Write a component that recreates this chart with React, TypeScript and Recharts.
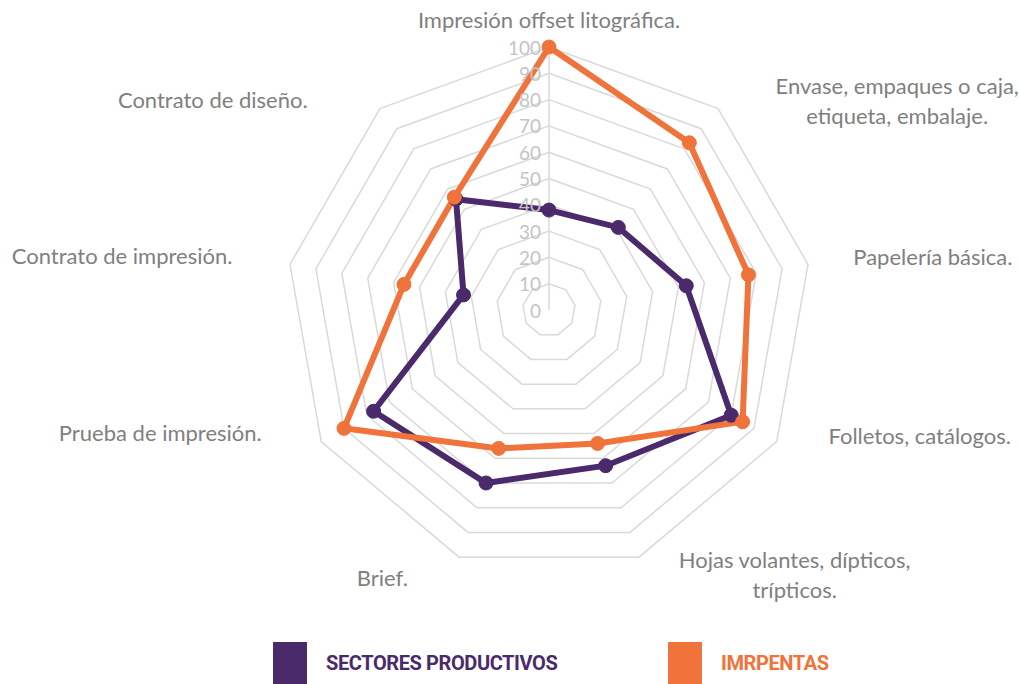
import { Legend, PolarAngleAxis, PolarGrid, PolarRadiusAxis, Radar, RadarChart } from 'recharts';

// Categories, clockwise from the top. "\n" marks a line break in the label.
const categories = [
  'Impresión offset litográfica.',
  'Envase, empaques o caja,\netiqueta, embalaje.',
  'Papelería básica.',
  'Folletos, catálogos.',
  'Hojas volantes, dípticos,\ntrípticos.',
  'Brief.',
  'Prueba de impresión.',
  'Contrato de impresión.',
  'Contrato de diseño.',
];

const sectoresProductivos = [38, 41, 53, 80, 63, 70, 77, 33, 55];
const imprentas = [100, 83, 77, 85, 54, 56, 90, 56, 56];

const seriesNames = ['SECTORES PRODUCTIVOS', 'IMRPENTAS'];

const PURPLE = '#4a2a6b';
const ORANGE = '#ef733a';
const GRID = '#d9d9d9';

const data = categories.map((name, i) => ({
  name,
  sectores: sectoresProductivos[i],
  imprentas: imprentas[i],
}));

// Excel puts category labels a bit off the spokes; nudge each one from the tick point.
const labelNudge: [number, number][] = [
  [0, -20],
  [174, -2],
  [117, -6],
  [136, -10],
  [153, 10],
  [-74, 13],
  [-154, -13],
  [-160, -7],
  [-162, -3],
];

function AngleTick({ x, y, payload, index }: any) {
  const [dx, dy] = labelNudge[index] ?? [0, 0];
  const lines = String(payload.value).split('\n');
  const lineH = 30;
  const top = y + dy - ((lines.length - 1) * lineH) / 2;
  return (
    <text
      textAnchor="middle"
      fill="#7f7f7f"
      fontSize={22}
      fontFamily="Lato, 'Open Sans', sans-serif"
    >
      {lines.map((l, i) => (
        <tspan key={i} x={x + dx} y={top + i * lineH} dominantBaseline="central">
          {l}
        </tspan>
      ))}
    </text>
  );
}

function RadiusTick({ x, y, payload }: any) {
  return (
    <text
      x={x - 8}
      y={y}
      textAnchor="end"
      dominantBaseline="central"
      fill="#c4c4c4"
      fontSize={19}
      fontFamily="Lato, 'Open Sans', sans-serif"
    >
      {payload.value}
    </text>
  );
}

function LegendBox() {
  const items = [
    { name: seriesNames[0], color: PURPLE, width: 395 },
    { name: seriesNames[1], color: ORANGE, width: 200 },
  ];
  return (
    <div style={{ display: 'flex', paddingLeft: 273 }}>
      {items.map((it) => (
        <div key={it.name} style={{ display: 'flex', alignItems: 'center', width: it.width }}>
          <span style={{ width: 34, height: 44, background: it.color, display: 'inline-block' }} />
          <span
            style={{
              marginLeft: 19,
              marginTop: -2,
              color: it.color,
              fontFamily: "Roboto, 'Open Sans', sans-serif",
              fontWeight: 700,
              fontSize: 20,
              letterSpacing: -0.4,
            }}
          >
            {it.name}
          </span>
        </div>
      ))}
    </div>
  );
}

export default function App() {
  return (
    <div style={{ position: 'absolute', left: 0, top: 0, width: 1019, height: 684, background: '#fff', overflow: 'hidden' }}>
      <RadarChart
        width={1019}
        height={684}
        data={data}
        cx={549}
        cy={310}
        outerRadius={263}
        startAngle={90}
        endAngle={-270}
        margin={{ top: 0, right: 0, bottom: 0, left: 0 }}
      >
        <PolarGrid gridType="polygon" radialLines={false} stroke={GRID} strokeWidth={1.5} />
        <PolarAngleAxis dataKey="name" tick={AngleTick} tickLine={false} axisLine={false} />
        <PolarRadiusAxis
          angle={90}
          domain={[0, 100]}
          tickCount={11}
          tick={RadiusTick}
          tickLine={false}
          axisLine={{ stroke: GRID, strokeWidth: 1.5 }}
        />
        <Radar
          name={seriesNames[0]}
          dataKey="sectores"
          stroke={PURPLE}
          strokeWidth={6}
          fill="none"
          dot={{ r: 7, fill: PURPLE, stroke: PURPLE, strokeWidth: 1 }}
          isAnimationActive={false}
        />
        <Radar
          name={seriesNames[1]}
          dataKey="imprentas"
          stroke={ORANGE}
          strokeWidth={6}
          fill="none"
          dot={{ r: 7, fill: ORANGE, stroke: ORANGE, strokeWidth: 1 }}
          isAnimationActive={false}
        />
        <Legend
          content={LegendBox}
          wrapperStyle={{ top: 642, left: 0, width: 1019, height: 42, bottom: 'auto' }}
        />
      </RadarChart>
    </div>
  );
}
